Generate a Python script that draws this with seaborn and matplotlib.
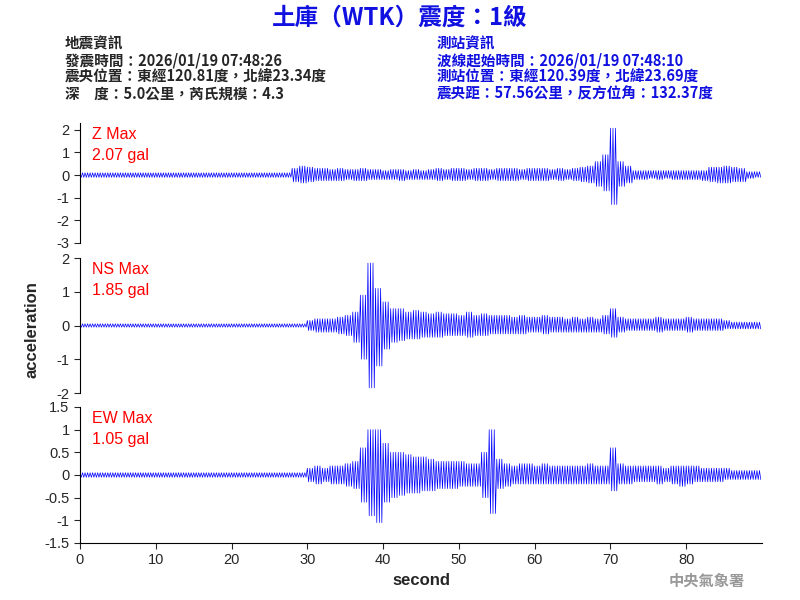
import matplotlib
matplotlib.use("Agg")
import matplotlib.pyplot as plt
import seaborn as sns

sns.set_style("white")
plt.rcParams['font.family'] = ['Noto Sans CJK TC', 'DejaVu Sans']

# per-second envelope (upper, lower), 0..89 s
z_up = [0.1]*28 + [0.3, 0.4, 0.35, 0.3, 0.3, 0.25, 0.3, 0.25, 0.25, 0.3,
        0.25, 0.25, 0.2, 0.25, 0.25, 0.2, 0.25, 0.2, 0.25, 0.3, 0.25, 0.3,
        0.3, 0.25, 0.3, 0.3, 0.25, 0.3, 0.3, 0.3, 0.25, 0.3, 0.3, 0.3,
        0.25, 0.3, 0.25, 0.3, 0.35, 0.4,
        0.6, 0.9, 2.07, 0.6, 0.4, 0.2, 0.2, 0.2, 0.2, 0.2, 0.2, 0.2,
        0.2, 0.2, 0.2, 0.35, 0.35, 0.4, 0.35, 0.3, 0.15, 0.15]
z_lo = [-0.1]*28 + [-0.3, -0.35, -0.3, -0.25, -0.25, -0.25, -0.25, -0.2, -0.25, -0.25,
        -0.2, -0.2, -0.2, -0.2, -0.25, -0.2, -0.2, -0.2, -0.2, -0.25, -0.2, -0.25,
        -0.25, -0.2, -0.25, -0.25, -0.2, -0.25, -0.25, -0.25, -0.2, -0.25, -0.25, -0.25,
        -0.2, -0.25, -0.2, -0.25, -0.3, -0.35,
        -0.5, -0.7, -1.3, -0.5, -0.35, -0.2, -0.2, -0.15, -0.2, -0.15, -0.2, -0.2,
        -0.2, -0.2, -0.25, -0.3, -0.35, -0.35, -0.3, -0.3, -0.15, -0.1]
ns_up = [0.05]*30 + [0.15, 0.2, 0.2, 0.2, 0.25, 0.3, 0.4, 0.9, 1.85, 1.1,
         0.7, 0.5, 0.5, 0.4, 0.45, 0.4, 0.35, 0.4, 0.35, 0.35, 0.3, 0.4,
         0.3, 0.35, 0.3, 0.3, 0.3, 0.25, 0.3, 0.25, 0.25, 0.3, 0.25, 0.25,
         0.2, 0.25, 0.2, 0.25, 0.2, 0.3, 0.5, 0.25, 0.2, 0.2, 0.2, 0.2,
         0.25, 0.2, 0.2, 0.2, 0.25, 0.2, 0.2, 0.2, 0.2, 0.15, 0.1, 0.1,
         0.1, 0.1]
ns_lo = [-0.05]*30 + [-0.15, -0.2, -0.2, -0.2, -0.25, -0.3, -0.5, -1.0, -1.85, -1.2,
         -0.7, -0.5, -0.45, -0.4, -0.4, -0.35, -0.35, -0.35, -0.3, -0.3, -0.3, -0.35,
         -0.3, -0.3, -0.25, -0.25, -0.25, -0.25, -0.25, -0.2, -0.2, -0.25, -0.2, -0.2,
         -0.2, -0.2, -0.2, -0.2, -0.2, -0.25, -0.35, -0.2, -0.15, -0.15, -0.15, -0.15,
         -0.2, -0.15, -0.15, -0.15, -0.2, -0.15, -0.15, -0.15, -0.15, -0.1, -0.1, -0.1,
         -0.1, -0.1]
ew_up = [0.05]*30 + [0.15, 0.2, 0.15, 0.2, 0.2, 0.25, 0.3, 0.6, 1.0, 1.0,
         0.7, 0.5, 0.5, 0.45, 0.4, 0.4, 0.35, 0.3, 0.3, 0.3, 0.3, 0.25,
         0.25, 0.5, 1.0, 0.35, 0.25, 0.2, 0.25, 0.25, 0.2, 0.25, 0.2, 0.2,
         0.2, 0.2, 0.2, 0.25, 0.2, 0.2, 0.6, 0.25, 0.2, 0.2, 0.2, 0.2,
         0.2, 0.15, 0.2, 0.2, 0.2, 0.2, 0.15, 0.15, 0.15, 0.15, 0.1, 0.1,
         0.1, 0.1]
ew_lo = [-0.05]*30 + [-0.15, -0.2, -0.15, -0.2, -0.2, -0.25, -0.3, -0.6, -0.9, -1.05,
         -0.6, -0.5, -0.45, -0.4, -0.4, -0.35, -0.35, -0.3, -0.3, -0.3, -0.25, -0.25,
         -0.25, -0.5, -0.85, -0.3, -0.25, -0.2, -0.2, -0.2, -0.2, -0.2, -0.2, -0.2,
         -0.2, -0.2, -0.2, -0.2, -0.2, -0.2, -0.35, -0.2, -0.2, -0.15, -0.15, -0.15,
         -0.2, -0.15, -0.2, -0.25, -0.2, -0.15, -0.15, -0.15, -0.15, -0.1, -0.1, -0.1,
         -0.1, -0.1]

channels = ["Z", "NS", "EW"]
max_vals = ["2.07", "1.85", "1.05"]
series = [(z_up, z_lo), (ns_up, ns_lo), (ew_up, ew_lo)]
ylims = [(-3, 2.3), (-2, 2), (-1.5, 1.5)]
yticks = [[-3, -2, -1, 0, 1, 2], [-2, -1, 0, 1, 2],
          [-1.5, -1, -0.5, 0, 0.5, 1, 1.5]]
ytlabels = [["-3", "-2", "-1", "0", "1", "2"], ["-2", "-1", "0", "1", "2"],
            ["-1.5", "-1", "-0.5", "0", "0.5", "1", "1.5"]]
# axes boxes in pixels (top, bottom)
boxes = [(123, 243), (258, 393), (407, 543)]

fig = plt.figure(figsize=(8, 6), dpi=100)


def zigzag(up, lo):
    t, v = [], []
    for i, (a, b) in enumerate(zip(up, lo)):
        for k in range(6):
            t.append(i + k / 6)
            v.append(a if k % 2 == 0 else b)
    return t, v


for i, ch in enumerate(channels):
    top, bot = boxes[i]
    ax = fig.add_axes([80 / 800, 1 - bot / 600, (762 - 80) / 800, (bot - top) / 600])
    t, v = zigzag(*series[i])
    sns.lineplot(x=t, y=v, ax=ax, color="blue", linewidth=0.5)
    ax.set_xlim(0, 90)
    ax.set_ylim(*ylims[i])
    ax.set_yticks(yticks[i])
    ax.set_yticklabels(ytlabels[i], fontsize=10.5, family="Liberation Sans")
    ax.tick_params(axis="y", length=4, direction="out", left=True)
    for s in ["top", "right"]:
        ax.spines[s].set_visible(False)
    ax.spines["left"].set_color("black")
    if i < 2:
        ax.spines["bottom"].set_visible(False)
        ax.set_xticks([])
    else:
        ax.spines["bottom"].set_color("black")
        ax.set_xticks([0, 10, 20, 30, 40, 50, 60, 70, 80])
        ax.set_xticklabels([str(x) for x in range(0, 90, 10)], family="Liberation Sans")
        ax.tick_params(axis="x", length=4, direction="out", bottom=True, labelsize=10.5)
        ax.set_xlabel("second", fontsize=12, family="Liberation Sans", fontweight="bold")
    ax.text(0.017, 0.97, f"{ch} Max\n{max_vals[i]} gal", transform=ax.transAxes,
            color="red", fontsize=11.5, va="top", family="Liberation Sans", linespacing=1.5)

fig.text(0.04, 1 - 330 / 600, "acceleration", rotation=90, va="center", ha="center",
         fontsize=12, family="Liberation Sans", fontweight="bold")

fig.text(0.5, 1 - 18 / 600, "土庫（WTK）震度：1級", color="#1010e0", fontsize=17,
         fontweight="bold", ha="center", va="center")
left = ["地震資訊", "發震時間：2026/01/19 07:48:26",
        "震央位置：東經120.81度，北緯23.34度", "深　度：5.0公里，芮氏規模：4.3"]
right = ["測站資訊", "波線起始時間：2026/01/19 07:48:10",
         "測站位置：東經120.39度，北緯23.69度", "震央距：57.56公里，反方位角：132.37度"]
for k, (l, r) in enumerate(zip(left, right)):
    y = 1 - (43 + 17 * k) / 600
    fig.text(65 / 800, y, l, fontsize=10.5, fontweight="bold", va="center")
    fig.text(437 / 800, y, r, fontsize=10.5, color="#1010e0", va="center", fontweight="bold")

fig.text(745 / 800, 1 - 581 / 600, "中央氣象署", fontsize=11, color="#999999",
         fontweight="bold", ha="right", va="center")

fig.savefig("out.png", dpi=100)
